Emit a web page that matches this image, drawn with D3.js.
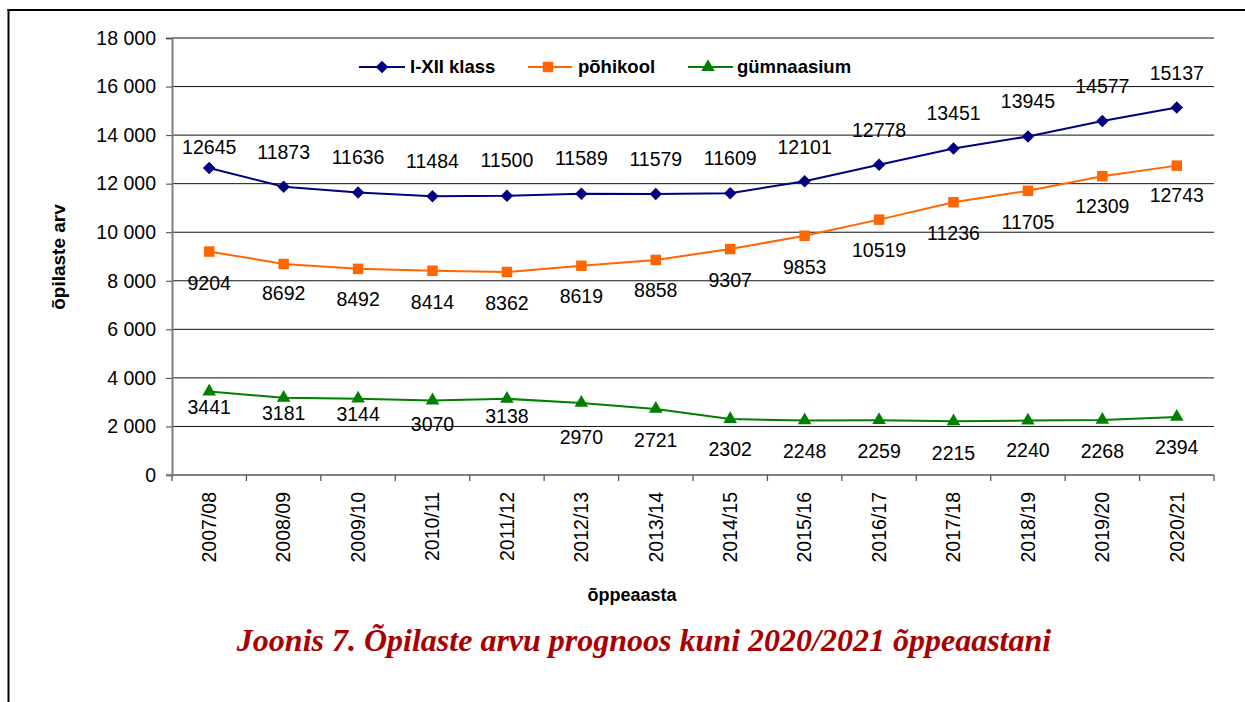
<!DOCTYPE html>
<html><head><meta charset="utf-8">
<script src="https://cdn.jsdelivr.net/npm/d3@7"></script>
<style>body{margin:0;background:#fff}svg{display:block}</style>
</head><body>
<svg id="chart" width="1245" height="702"></svg>
<script>
const categories = ["2007/08","2008/09","2009/10","2010/11","2011/12","2012/13","2013/14","2014/15","2015/16","2016/17","2017/18","2018/19","2019/20","2020/21"];
const klassValues = [12645,11873,11636,11484,11500,11589,11579,11609,12101,12778,13451,13945,14577,15137];
const pohikoolValues = [9204,8692,8492,8414,8362,8619,8858,9307,9853,10519,11236,11705,12309,12743];
const gymnaasiumValues = [3441,3181,3144,3070,3138,2970,2721,2302,2248,2259,2215,2240,2268,2394];
const seriesNames = ["I-XII klass","põhikool","gümnaasium"];
const yTicks = [0,2000,4000,6000,8000,10000,12000,14000,16000,18000];
const yTitle = "õpilaste arv";
const xTitle = "õppeaasta";
const chartTitle = "Joonis 7. Õpilaste arvu prognoos kuni 2020/2021 õppeaastani";

// layout (label placement offsets, px)
const labelShift = {
  0: [-21,-35,-35,-35,-36,-35,-35,-35,-34,-35,-35,-35,-35,-34],
  1: [32,29,30.5,31,31,30,30,31.5,31.5,31,31,31,30.5,29.5],
  2: [16,15,16,24,17,34,31,30,30.5,31,31.5,30,31,30.5]
};

const svg = d3.select("#chart");
const pLeft = 172, pRight = 1214, pTop = 38, pBottom = 475;
const x = d3.scalePoint().domain(categories).range([pLeft, pRight]).padding(0.5);
const y = d3.scaleLinear().domain([0, 18000]).range([pBottom, pTop]);
const fmt = d3.formatLocale({decimal:",", thousands:" ", grouping:[3], currency:["",""]}).format(",d");
const sans = "'Liberation Sans', Arial, sans-serif";

// frame
svg.append("line").attr("x1",8.5).attr("x2",8.5).attr("y1",9).attr("y2",702).attr("stroke","#000").attr("stroke-width",2);
svg.append("line").attr("x1",7.5).attr("x2",1245).attr("y1",10).attr("y2",10).attr("stroke","#000").attr("stroke-width",2);

// gridlines
svg.append("g").selectAll("line").data(yTicks.filter(d=>d>0)).join("line")
  .attr("x1",pLeft).attr("x2",pRight).attr("y1",d=>y(d)).attr("y2",d=>y(d))
  .attr("stroke","#111").attr("stroke-width",1);

// y axis
const yAxis = svg.append("g").attr("transform",`translate(${pLeft},0)`)
  .call(d3.axisLeft(y).tickValues(yTicks).tickFormat(fmt).tickSize(6).tickPadding(10));
yAxis.select(".domain").attr("stroke","#808080").attr("stroke-width",2);
yAxis.selectAll(".tick line").attr("stroke","#444");
yAxis.selectAll("text").attr("font-family",sans).attr("font-size","19.5px").attr("fill","#000");

// x axis
svg.append("line").attr("x1",pLeft-6).attr("x2",pRight).attr("y1",pBottom).attr("y2",pBottom).attr("stroke","#808080").attr("stroke-width",2);
const step = x.step();
svg.append("g").selectAll("line").data(d3.range(categories.length+1)).join("line")
  .attr("x1",i=>pLeft+i*step).attr("x2",i=>pLeft+i*step).attr("y1",pBottom).attr("y2",pBottom+6)
  .attr("stroke","#555").attr("stroke-width",1.3);
svg.append("g").selectAll("text").data(categories).join("text")
  .attr("transform",d=>`translate(${x(d)},${pBottom+17}) rotate(-90)`)
  .attr("text-anchor","end").attr("dy","0.35em")
  .attr("font-family",sans).attr("font-size","19.5px").attr("fill","#000").text(d=>d);

// axis titles
svg.append("text").attr("x",632).attr("y",595).attr("dy","0.35em").attr("text-anchor","middle")
  .attr("font-family",sans).attr("font-weight","bold").attr("font-size","18px").text(xTitle);
svg.append("text").attr("transform","translate(58,257) rotate(-90)").attr("dy","0.35em").attr("text-anchor","middle")
  .attr("font-family",sans).attr("font-weight","bold").attr("font-size","19px").text(yTitle);

// series
const series = [
  {name: seriesNames[0], values: klassValues, color: "#000080", marker: d3.symbolSquare, size: 78, rot: 45},
  {name: seriesNames[1], values: pohikoolValues, color: "#FF6600", marker: d3.symbolSquare, size: 110, rot: 0},
  {name: seriesNames[2], values: gymnaasiumValues, color: "#008000", marker: d3.symbolTriangle, size: 80, rot: 0}
];
const line = d3.line().x((d,i)=>x(categories[i])).y(d=>y(d));
series.forEach((s,si)=>{
  const g = svg.append("g");
  g.append("path").attr("d",line(s.values)).attr("fill","none").attr("stroke",s.color).attr("stroke-width",2);
  g.selectAll("path.m").data(s.values).join("path").attr("class","m")
    .attr("d",d3.symbol(s.marker, s.size))
    .attr("transform",(d,i)=>`translate(${x(categories[i])},${y(d)}) rotate(${s.rot})`)
    .attr("fill",s.color);
  g.selectAll("text").data(s.values).join("text")
    .attr("x",(d,i)=>x(categories[i])).attr("y",(d,i)=>y(d)+labelShift[si][i])
    .attr("dy","0.35em").attr("text-anchor","middle")
    .attr("font-family",sans).attr("font-size","19.5px").attr("fill","#000").text(d=>d);
});

// legend
const legendItems = [
  {x1:359, x2:405, m:382, t:410},
  {x1:528, x2:572, m:548, t:578},
  {x1:688, x2:733, m:708, t:737}
];
const ly = 67;
series.forEach((s,si)=>{
  const L = legendItems[si];
  svg.append("line").attr("x1",L.x1).attr("x2",L.x2).attr("y1",ly).attr("y2",ly).attr("stroke",s.color).attr("stroke-width",2);
  svg.append("path").attr("d",d3.symbol(s.marker, s.size))
    .attr("transform",`translate(${L.m},${ly}) rotate(${s.rot})`).attr("fill",s.color);
  svg.append("text").attr("x",L.t).attr("y",ly).attr("dy","0.35em")
    .attr("font-family",sans).attr("font-weight","bold").attr("font-size","18.5px").attr("fill","#000").text(s.name);
});

// title
svg.append("text").attr("x",644).attr("y",640).attr("dy","0.35em").attr("text-anchor","middle")
  .attr("font-family","'Liberation Serif', 'Times New Roman', serif").attr("font-weight","bold").attr("font-style","italic")
  .attr("font-size","32px").attr("fill","#A80000").text(chartTitle);
</script>
</body></html>
